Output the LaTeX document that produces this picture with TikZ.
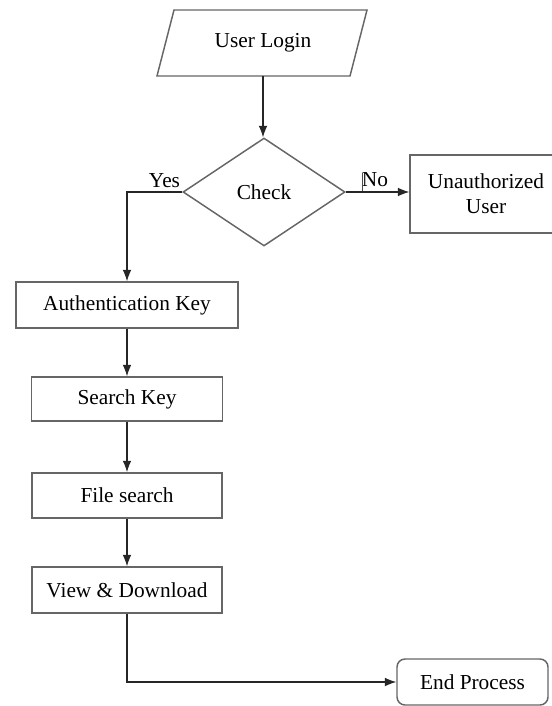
\documentclass[tikz,border=0pt]{standalone}
\usepackage{fontspec}
\setmainfont{Liberation Serif}
\usetikzlibrary{shapes.geometric,arrows.meta,positioning}

\begin{document}
\begin{tikzpicture}[x=0.75pt,y=-0.75pt,
    txt/.style={inner sep=0pt,font=\fontsize{16}{19}\selectfont},
    box/.style={txt,draw=black!60,line width=1.1pt,minimum width=142.5pt,minimum height=34pt,align=center},
    flow/.style={draw=black!85,line width=0.8pt,-{Latex[length=8.5pt,width=6.5pt]}}]
    \useasboundingbox (0,0) rectangle (552,706);
    \clip (0,0) rectangle (552,706);

    % Input (parallelogram)
    \draw[draw=black!60,line width=1.1pt] (174,10) -- (367,10) -- (350,76) -- (157,76) -- cycle;
    \node[txt,minimum height=49.5pt] (login) at (263,43) {User Login};

    % Decision
    \node[txt,diamond,draw=black!60,line width=1.1pt,minimum width=121.5pt,minimum height=81pt] (check) at (264,192) {Check};

    % Boxes
    \node[box,minimum width=114pt,minimum height=58.5pt] (unauth) at (486,194) {Unauthorized\\User};
    \node[box,minimum width=166.5pt,minimum height=34.5pt] (auth) at (127,305) {Authentication Key};
    \node[box,minimum width=143.25pt,minimum height=33pt] (search) at (127,399) {Search Key};
    \node[box] (file) at (127,495.5) {File search};
    \node[box,minimum height=34.5pt] (view) at (127,590) {View \& Download};
    \node[box,rounded corners=6pt,minimum width=113.25pt,minimum height=34.5pt] (endp) at (472.5,682) {End Process};

    % Labels on the branches
    \node[txt] (yes) at (164.5,181) {Yes};
    \node[txt] (no) at (375,180) {No};
    \draw[black!70,line width=0.6pt] (362,173) -- (362,192);

    % Connectors
    \draw[flow] (login.south) -- (login.south |- check.north);
    \draw[flow] (check.west) -| (auth.north);
    \draw[flow] (check.east) -- (check.east -| unauth.west);
    \draw[flow] (auth) -- (search);
    \draw[flow] (search) -- (file);
    \draw[flow] (file) -- (view);
    \draw[flow] (view.south) |- (endp.west);
\end{tikzpicture}
\end{document}
